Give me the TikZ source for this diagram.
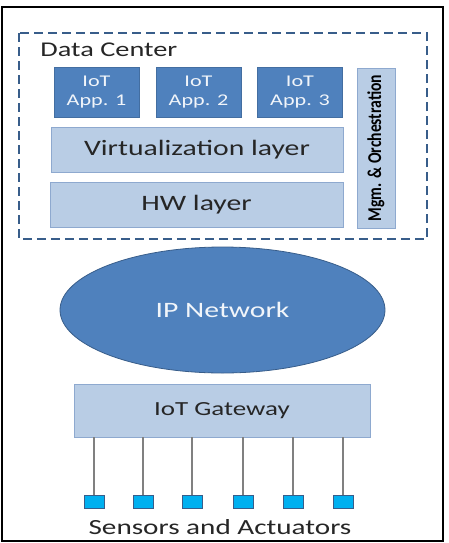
\documentclass[tikz,border=0pt]{standalone}
\usepackage{fontspec}
\setmainfont{Carlito}[FakeStretch=1.35]
\newfontfamily\mgmfont{Carlito}[FakeStretch=0.8]
\usetikzlibrary{positioning,shapes.geometric}

\definecolor{appblue}{HTML}{4F81BD}
\definecolor{layerblue}{HTML}{B9CDE5}
\definecolor{layeredge}{HTML}{8EA9CF}
\definecolor{dcedge}{HTML}{385D8A}
\definecolor{sensorcyan}{HTML}{00B0F0}
\definecolor{textdark}{HTML}{262626}

\tikzset{
  app/.style={draw=appblue!85!black, fill=appblue, text=white!92!appblue, minimum width=42.5pt,
    minimum height=25pt, inner sep=0pt, align=center, font=\fontsize{8.2}{9.5}\selectfont},
  layer/.style={draw=layeredge, fill=layerblue, inner sep=0pt, text=textdark},
  sensor/.style={draw=dcedge, fill=sensorcyan, minimum width=10pt, minimum height=6.5pt, inner sep=0pt},
  wire/.style={draw=gray, line width=0.7pt}
}

\begin{document}
\begin{tikzpicture}[x=0.5pt,y=-0.5pt]
  \useasboundingbox (0,0) rectangle (449,543);
  \draw[line width=1pt] (2,7) rectangle (443,541);
  % data center
  \draw[dcedge, line width=1pt, dash pattern=on 4.5pt off 2.5pt] (19,33) rectangle (427,239);
  \node[anchor=west, inner sep=0pt, text=textdark, font=\fontsize{10.5}{12}\selectfont] (dc) at (40,50) {Data Center};
  \foreach \x/\n in {96.5/1,198.5/2,300/3} {\node[app] (app\n) at (\x,92) {IoT\\App. \n};}
  \node[layer, minimum width=146pt, minimum height=22.5pt, font=\fontsize{11}{13}\selectfont] (virt) at (197,149.5) {Virtualization layer};
  \node[layer, minimum width=146.5pt, minimum height=22.5pt, font=\fontsize{11}{13}\selectfont] (hw) at (196.5,204.5) {HW layer};
  \node[layer, rotate=90, minimum width=80pt, minimum height=19pt, text=black, font=\mgmfont\bfseries\fontsize{9.8}{11}\selectfont] (mgm) at (376,148) {Mgm. \& Orchestration};
  % network and gateway
  \node[ellipse, fill=appblue, draw=dcedge, minimum width=162.5pt, minimum height=63pt,
    text=white!92!appblue, font=\fontsize{11}{13}\selectfont] (net) at (222.5,310) {IP Network};
  \node[layer, minimum width=148pt, minimum height=26.5pt, font=\fontsize{10}{12}\selectfont] (gw) at (222,410.5) {IoT Gateway};
  \foreach \x/\n in {94/1,143/2,192/3,243/4,293/5,343/6} {
    \node[sensor] (s\n) at (\x,501.5) {};
    \draw[wire] (gw.south -| s\n) -- (s\n);
  }
  \node[text=textdark, font=\fontsize{10.8}{12}\selectfont] (sa) at (220,527) {Sensors and Actuators};
\end{tikzpicture}
\end{document}
